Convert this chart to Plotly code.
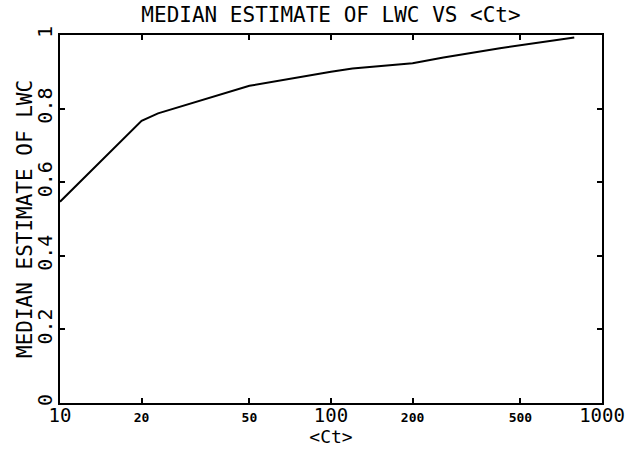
import plotly.graph_objects as go

# Data
ct = [10, 20, 23, 50, 100, 120, 200, 260, 420, 790]
lwc = [0.547, 0.767, 0.787, 0.862, 0.900, 0.909, 0.923, 0.939, 0.964, 0.993]

x_tickvals = [10, 20, 50, 100, 200, 500, 1000]
x_major = {10, 100, 1000}
y_tickvals = [0, 0.2, 0.4, 0.6, 0.8, 1]
y_ticktext = ["0", "0.2", "0.4", "0.6", "0.8", "1"]

FONT = "DejaVu Sans Mono"

x_ticktext = [
    str(v) if v in x_major else f"<span style='font-size:13px'><b>{v}</b></span>"
    for v in x_tickvals
]

fig = go.Figure()
fig.add_trace(go.Scatter(
    x=ct, y=lwc, mode="lines",
    line=dict(color="black", width=2),
    showlegend=False,
))

fig.update_layout(
    width=635, height=450,
    margin=dict(l=60, r=33, t=35, b=47, autoexpand=False),
    paper_bgcolor="white", plot_bgcolor="white",
    font=dict(family=FONT, color="black", size=20),
    title=dict(
        text="MEDIAN ESTIMATE OF LWC VS &lt;Ct&gt;",
        x=331 / 635, xanchor="center", y=1 - 15 / 450, yanchor="middle",
        xref="container", yref="container",
        font=dict(family=FONT, size=21, color="black"),
    ),
)

fig.update_xaxes(
    type="log", range=[1, 3],
    tickvals=x_tickvals, ticktext=x_ticktext,
    ticks="inside", ticklen=5, tickwidth=1.5, tickcolor="black",
    showline=True, linecolor="black", linewidth=2, mirror="ticks",
    showgrid=False, zeroline=False,
    tickfont=dict(family=FONT, size=19, color="black"),
    tickangle=0,
    ticklabelstandoff=-6,
    automargin=False,
    title=dict(text="&lt;Ct&gt;", font=dict(family=FONT, size=18, color="black"), standoff=5),
)

fig.update_yaxes(
    range=[0, 1],
    tickvals=y_tickvals, ticktext=y_ticktext,
    ticks="inside", ticklen=5, tickwidth=1.5, tickcolor="black",
    showline=True, linecolor="black", linewidth=2, mirror="ticks",
    showgrid=False, zeroline=False,
    tickangle=-90,
    tickfont=dict(family=FONT, size=20, color="black"),
    ticklabelstandoff=-2,
    automargin=False,
)

# y-axis title placed as a rotated annotation
fig.add_annotation(
    text="MEDIAN ESTIMATE OF LWC",
    xref="paper", yref="paper",
    x=-35 / 542, y=0.5, xanchor="center", yanchor="middle",
    textangle=-90, showarrow=False,
    font=dict(family=FONT, size=21, color="black"),
)

fig.write_html(
    "out.html",
    config={"displayModeBar": False},
    post_script="document.body.style.margin='0';",
)
